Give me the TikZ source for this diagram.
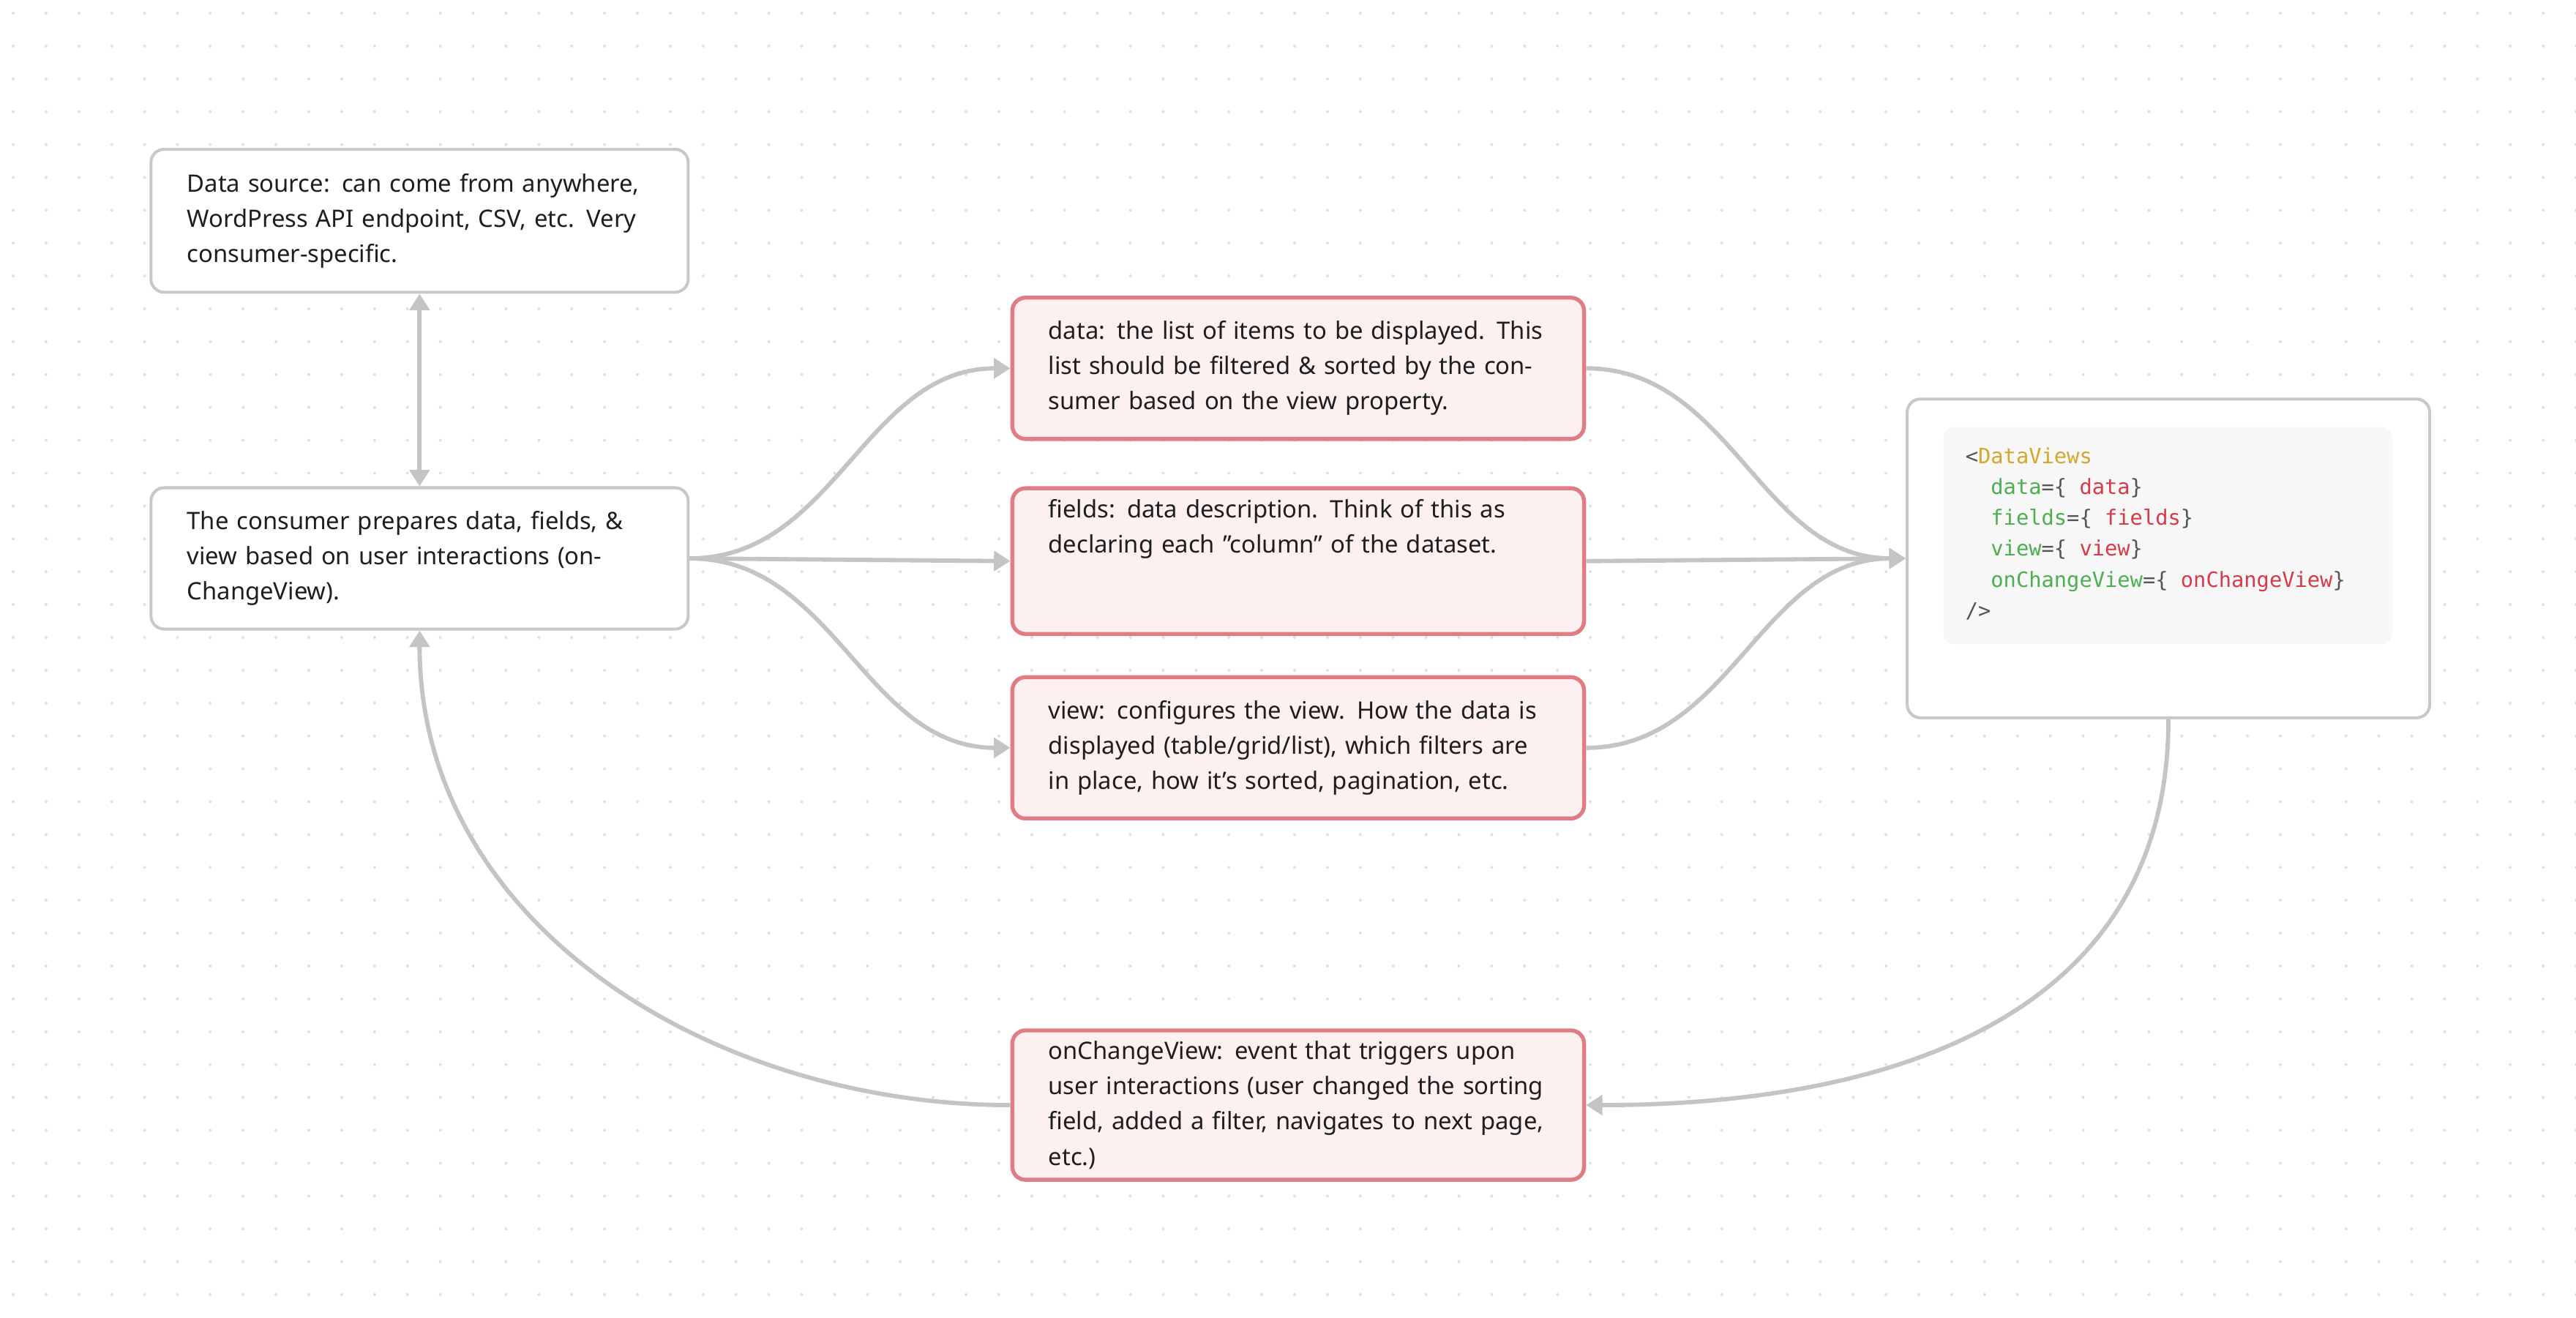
\documentclass[tikz,border=0pt]{standalone}
\usepackage{fontspec}
\setmainfont{Noto Sans}
\setmonofont{DejaVu Sans Mono}
\usetikzlibrary{arrows.meta}
\definecolor{boxline}{HTML}{C8C8C8}
\definecolor{redline}{HTML}{E07C84}
\definecolor{redfill}{HTML}{FCF0F0}
\definecolor{arr}{HTML}{C4C4C4}
\definecolor{cyel}{HTML}{D4A72C}
\definecolor{cgrn}{HTML}{4CAF50}
\definecolor{cred}{HTML}{D73A49}
\definecolor{cgry}{HTML}{555555}
\definecolor{txt}{HTML}{1E1E1E}
\tikzset{
  base/.style={rounded corners=4pt, align=left, text width=#1, inner xsep=11pt, font=\fontsize{7.3}{10.7}\selectfont, text=txt},
  graybox/.style={base=#1, draw=boxline, line width=0.9pt, fill=white},
  redbox/.style={base=#1, draw=redline, line width=1.2pt, fill=redfill},
  conn/.style={draw=arr, line width=1.3pt, -{Triangle[length=5pt,width=6pt]}},
}
\begin{document}
\begin{tikzpicture}[x=0.5pt,y=-0.5pt]
\useasboundingbox (0,0) rectangle (1568,802);
\fill[white] (0,0) rectangle (1568,802);
\foreach \i in {0,...,78}{\foreach \j in {0,...,40}{\fill[black!12] (\i*20+8,\j*20+8) circle (0.45pt);}}
% gray boxes
\node[graybox=141.5pt, minimum width=327*0.5pt, minimum height=87*0.5pt, anchor=north west] (src) at (91,90) {Data source: can come from anywhere, WordPress API endpoint, CSV, etc. Very consumer-specific.};
\node[graybox=141.5pt, minimum width=327*0.5pt, minimum height=86*0.5pt, anchor=north west] (cons) at (91,296) {The consumer prepares data, fields, \& view based on user interactions (onChangeView).};
% red boxes
\node[redbox=152pt, minimum width=348*0.5pt, minimum height=86*0.5pt, anchor=north west] (data) at (615,180) {\textbf{data}: the list of items to be displayed. This list should be filtered \& sorted by the consumer based on the view property.};
\node[redbox=152pt, minimum width=348*0.5pt, minimum height=86*0.5pt, anchor=north west] (fields) at (615,296) {\textbf{fields}: data description. Think of this as declaring each "column" of the dataset.\\[10.7pt]\mbox{}};
\node[redbox=152pt, minimum width=348*0.5pt, minimum height=86*0.5pt, anchor=north west] (view) at (615,411) {\textbf{view}: configures the view. How the data is displayed (table/grid/list), which filters are in place, how it's sorted, pagination, etc.};
\node[redbox=152pt, minimum width=348*0.5pt, minimum height=85*0.5pt, anchor=north west] (onc) at (615,626) {\textbf{onChangeView}: event that triggers upon user interactions (user changed the sorting field, added a filter, navigates to next page, etc.)};
% code box
\node[draw=boxline, line width=0.9pt, fill=white, rounded corners=4pt, minimum width=318*0.5pt, minimum height=194*0.5pt, anchor=north west, inner sep=0pt] (code) at (1160,242) {};
\fill[black!3, rounded corners=3pt] (1183,260) rectangle (1456,392);
\node[anchor=north west, inner sep=0pt, align=left, font=\ttfamily\fontsize{6.4}{9.4}\selectfont] (codetxt) at (1196,272) {%
\textcolor{cgry}{<}\textcolor{cyel}{DataViews}\\
\textcolor{cgrn}{\ \ data}\textcolor{cgry}{=\{ }\textcolor{cred}{data}\textcolor{cgry}{ \}}\\
\textcolor{cgrn}{\ \ fields}\textcolor{cgry}{=\{ }\textcolor{cred}{fields}\textcolor{cgry}{ \}}\\
\textcolor{cgrn}{\ \ view}\textcolor{cgry}{=\{ }\textcolor{cred}{view}\textcolor{cgry}{ \}}\\
\textcolor{cgrn}{\ \ onChangeView}\textcolor{cgry}{=\{ }\textcolor{cred}{onChangeView}\textcolor{cgry}{ \}}\\
\textcolor{cgry}{/>}};
% connectors
\draw[conn, {Triangle[length=5pt,width=6pt]}-{Triangle[length=5pt,width=6pt]}] (src.south) -- (cons.north);
\draw[conn] (cons.east) to[out=0,in=180] (data.west);
\draw[conn] (cons.east) -- (fields.west);
\draw[conn] (cons.east) to[out=0,in=180] (view.west);
\draw[conn] (data.east) to[out=0,in=180] (code.west);
\draw[conn] (fields.east) -- (code.west);
\draw[conn] (view.east) to[out=0,in=180] (code.west);
\draw[conn] (code.south) to[out=-90,in=0,looseness=1.1] (onc.east);
\draw[conn] (onc.west) to[out=180,in=-90,looseness=1.0] (cons.south);
\end{tikzpicture}
\end{document}
